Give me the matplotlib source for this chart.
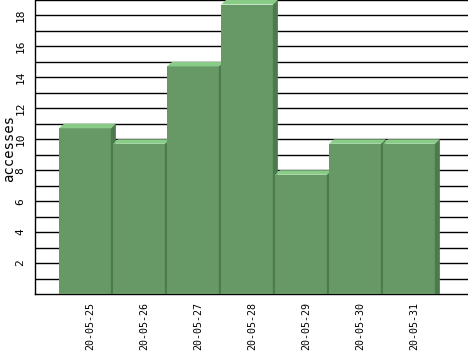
import matplotlib

matplotlib.use("Agg")
import matplotlib.pyplot as plt
from matplotlib.patches import Polygon, Rectangle

days = ["20-05-25", "20-05-26", "20-05-27", "20-05-28", "20-05-29", "20-05-30", "20-05-31"]
accesses = [11, 10, 15, 19, 8, 10, 10]

_FRONT = "#669966"
_TOP = "#88cc88"
_SIDE = "#4d7a4d"
_FONT = "DejaVu Sans Mono"

W, H = 468, 351
fig = plt.figure(figsize=(W / 100, H / 100), dpi=100)
ax = fig.add_axes([35 / W, (H - 294) / H, (W - 35) / W, 294 / H])

slot = 54.0
ax.set_xlim(-0.925, -0.925 + (W - 35) / slot)
ax.set_ylim(0, 19)

for y in range(1, 20):
    ax.axhline(y, color="black", linewidth=1.0, zorder=1)

half = 0.48
dx = 5 / slot
dy = 4.5 / 15.47
for i, v in enumerate(accesses):
    l, r = i - half, i + half
    ax.add_patch(Rectangle((l, 0), r - l, v - dy, facecolor=_FRONT, edgecolor="none", zorder=2))
    ax.add_patch(Polygon([(l, v - dy), (r, v - dy), (r + dx, v), (l + dx, v)],
                         facecolor=_TOP, edgecolor="none", zorder=2))
    ax.add_patch(Polygon([(r, 0), (r + dx, 0), (r + dx, v), (r, v - dy)],
                         facecolor=_SIDE, edgecolor="none", zorder=2))

ax.set_xticks([i + dx for i in range(len(days))], days, rotation=90, fontsize=7.2, family=_FONT)
ax.set_yticks(range(2, 19, 2))
ax.set_yticklabels([str(t) for t in range(2, 19, 2)], rotation=90, va="center",
                   fontsize=8, family=_FONT)
ax.tick_params(length=0)
ax.tick_params(axis="x", pad=6)
ax.tick_params(axis="y", pad=7)
for side in ["top", "right", "bottom"]:
    ax.spines[side].set_visible(False)
ax.spines["left"].set_color("black")
ax.spines["left"].set_linewidth(1.0)
ax.spines["left"].set_zorder(3)
ax.axhline(0, color="black", linewidth=1.0, zorder=1, clip_on=False)

fig.text(9 / W, 1 - 148 / H, "accesses", rotation=90, ha="center", va="center",
         fontsize=10, family=_FONT)

fig.savefig("out.png", dpi=100, facecolor="white")
